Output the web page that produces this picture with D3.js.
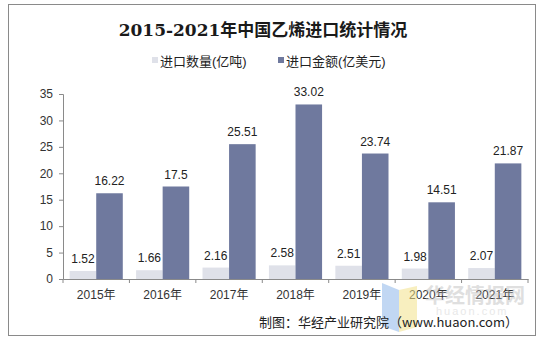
<!DOCTYPE html>
<html>
<head>
<meta charset="utf-8">
<script src="https://cdn.jsdelivr.net/npm/d3@7"></script>
<style>
  html, body { margin: 0; padding: 0; background: #fff; }
  svg { display: block; }
</style>
</head>
<body>
<svg id="chart" width="543" height="343"></svg>
<script>
// Ethylene imports in China, 2015-2021
const years = ["2015年", "2016年", "2017年", "2018年", "2019年", "2020年", "2021年"];
const volume = [1.52, 1.66, 2.16, 2.58, 2.51, 1.98, 2.07];      // 进口数量 (亿吨)
const amount = [16.22, 17.5, 25.51, 33.02, 23.74, 14.51, 21.87]; // 进口金额 (亿美元)
const seriesNames = ["进口数量(亿吨)", "进口金额(亿美元)"];
const yTicks = [0, 5, 10, 15, 20, 25, 30, 35];

const colors = ["#dfe1e9", "#6f799e"];
const sans = "'Liberation Sans', Arial, 'Noto Sans CJK SC', sans-serif";

const svg = d3.select("#chart");

// outer frame
svg.append("rect")
  .attr("x", 8.5).attr("y", 4.5).attr("width", 527).attr("height", 331)
  .attr("fill", "#fff").attr("stroke", "#8a8a8a").attr("stroke-width", 1);

const plot = { left: 63, right: 528, top: 94, bottom: 279 };

const x = d3.scaleBand().domain(years).range([plot.left, plot.right]).paddingInner(0).paddingOuter(0);
const x1 = d3.scaleBand().domain([0, 1]).range([0, x.bandwidth()]).paddingInner(0).paddingOuter(0.25);
const y = d3.scaleLinear().domain([0, 35]).range([plot.bottom, plot.top]);

// title
svg.append("text")
  .attr("x", 263).attr("y", 36)
  .attr("text-anchor", "middle")
  .attr("font-family", "'DejaVu Serif', 'Liberation Serif', 'Noto Sans CJK SC', serif")
  .attr("font-weight", "bold").attr("font-size", 17).attr("fill", "#1a1a1a")
  .text("2015-2021年中国乙烯进口统计情况");

// legend
const legendX = [152, 278];
seriesNames.forEach((name, i) => {
  const g = svg.append("g").attr("transform", `translate(${legendX[i]},0)`);
  g.append("rect").attr("x", 0).attr("y", 57).attr("width", 6).attr("height", 6).attr("fill", colors[i]);
  g.append("text").attr("x", 8).attr("y", 65.5)
    .attr("font-family", sans).attr("font-size", 13).attr("fill", "#222")
    .text(name);
});

// y axis
const yAxis = d3.axisLeft(y).tickValues(yTicks).tickSize(4).tickPadding(6);
const gy = svg.append("g").attr("transform", `translate(${plot.left},0)`).call(yAxis);
gy.select(".domain").attr("stroke", "#8a8a8a");
gy.selectAll(".tick line").attr("stroke", "#8a8a8a");
gy.selectAll(".tick text").attr("font-family", sans).attr("font-size", 12).attr("fill", "#333");

// x axis with ticks at category boundaries
const gx = svg.append("g").attr("transform", `translate(0,${plot.bottom})`)
  .call(d3.axisBottom(x).tickSize(0).tickPadding(11));
gx.select(".domain").attr("stroke", "#8a8a8a");
gx.selectAll(".tick text").attr("font-family", sans).attr("font-size", 12).attr("fill", "#333");
const bounds = years.map(d => x(d)).concat([x(years[years.length - 1]) + x.bandwidth()]);
gx.selectAll(".bound").data(bounds).enter().append("line")
  .attr("x1", d => d).attr("x2", d => d).attr("y1", 0).attr("y2", 4)
  .attr("stroke", "#8a8a8a");

// bars
const data = years.map((yr, i) => ({ yr, vals: [volume[i], amount[i]] }));
const groups = svg.append("g").selectAll("g").data(data).enter().append("g")
  .attr("transform", d => `translate(${x(d.yr)},0)`);

groups.selectAll("rect").data(d => d.vals.map((v, k) => ({ v, k }))).enter().append("rect")
  .attr("x", d => x1(d.k))
  .attr("width", x1.bandwidth())
  .attr("y", d => y(d.v))
  .attr("height", d => y(0) - y(d.v))
  .attr("fill", d => colors[d.k]);

groups.selectAll("text.val").data(d => d.vals.map((v, k) => ({ v, k }))).enter().append("text")
  .attr("class", "val")
  .attr("x", d => x1(d.k) + x1.bandwidth() / 2)
  .attr("y", d => y(d.v) - 8)
  .attr("text-anchor", "middle")
  .attr("font-family", sans).attr("font-size", 12).attr("fill", "#222")
  .text(d => d.v);

// watermark
const wm = svg.append("g").attr("opacity", 0.55);
wm.append("path").attr("d", "M382,283 L399,290 L399,332 L382,326 Z").attr("fill", "#8fb8ea");
wm.append("path").attr("d", "M399,290 L417,286 L417,327 L399,332 Z").attr("fill", "#f3e28c");
wm.append("text").attr("x", 425).attr("y", 303)
  .attr("font-family", "'Noto Sans CJK SC', sans-serif").attr("font-weight", "bold")
  .attr("font-size", 20).attr("fill", "#b8b8b8").attr("opacity", 0.8)
  .text("华经情报网");
wm.append("text").attr("x", 436).attr("y", 315)
  .attr("font-family", sans).attr("font-size", 11).attr("fill", "#d6d6d6").attr("letter-spacing", 2)
  .text("huaon.com");

// source note
svg.append("text")
  .attr("x", 518).attr("y", 327)
  .attr("text-anchor", "end")
  .attr("font-family", "'Noto Sans CJK SC', sans-serif").attr("font-size", 13).attr("fill", "#222")
  .text("制图：华经产业研究院（www.huaon.com）");
</script>
</body>
</html>
